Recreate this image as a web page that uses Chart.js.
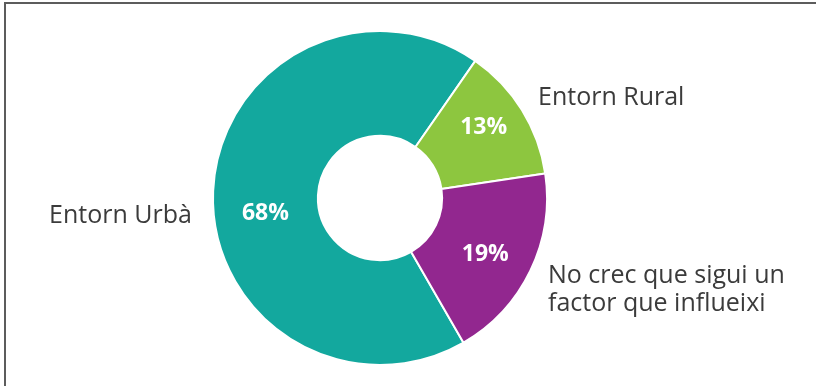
<!DOCTYPE html>
<html>
<head>
<meta charset="utf-8">
<script src="https://cdn.jsdelivr.net/npm/chart.js@4"></script>
<style>
  html, body { margin: 0; padding: 0; background: #fff; }
  #wrap { position: relative; width: 816px; height: 386px; overflow: hidden; }
  #frame {
    position: absolute; left: 4px; top: 2px; width: 900px; height: 500px;
    border-left: 2px solid #5c5c5c; border-top: 2px solid #5c5c5c;
  }
  canvas { position: absolute; left: 0; top: 0; }
</style>
</head>
<body>
<div id="wrap">
  <div id="frame"></div>
  <canvas id="pie" width="816" height="386"></canvas>
</div>
<script>
const categories = ["Entorn Urbà", "Entorn Rural", "No crec que sigui un factor que influeixi"];
const shares = [68, 13, 19];
const sliceColors = ["#13a89e", "#8dc63f", "#92278f"];

// outside captions, one entry per line
const captionLines = [
  ["Entorn Urbà"],
  ["Entorn Rural"],
  ["No crec que sigui un", "factor que influeixi"]
];

const textFont = "'Open Sans', 'Noto Sans', sans-serif";

// percent inside each slice
const sliceLabels = {
  id: "sliceLabels",
  afterDatasetsDraw(chart, args, opts) {
    const ctx = chart.ctx;
    const meta = chart.getDatasetMeta(0);
    ctx.save();
    ctx.fillStyle = "#fff";
    ctx.font = "bold 23px " + textFont;
    ctx.textAlign = "center";
    ctx.textBaseline = "middle";
    meta.data.forEach((arc, i) => {
      const p = arc.getProps(["x", "y", "startAngle", "endAngle", "innerRadius", "outerRadius"], true);
      const nudge = opts.nudge[i];
      const a = (p.startAngle + p.endAngle) / 2 + nudge.deg * Math.PI / 180;
      const r = (p.innerRadius + p.outerRadius) / 2 + nudge.dr;
      ctx.fillText(shares[i] + "%", p.x + Math.cos(a) * r, p.y + Math.sin(a) * r);
    });
    ctx.restore();
  }
};

// category names beside the ring
const captions = {
  id: "captions",
  afterDraw(chart, args, opts) {
    const ctx = chart.ctx;
    ctx.save();
    ctx.fillStyle = "#3b3b3b";
    ctx.font = "25px " + textFont;
    ctx.textBaseline = "alphabetic";
    ctx.textAlign = "left";
    captionLines.forEach((lines, i) => {
      const pos = opts.at[i];
      lines.forEach((line, j) => ctx.fillText(line, pos.x, pos.y + j * 28));
    });
    ctx.restore();
  }
};

new Chart(document.getElementById("pie"), {
  type: "doughnut",
  data: {
    labels: categories,
    datasets: [{
      data: shares,
      backgroundColor: sliceColors,
      borderColor: "#fff",
      borderWidth: 2,
      hoverOffset: 0
    }]
  },
  options: {
    responsive: false,
    animation: false,
    rotation: 150,
    radius: 167,
    cutout: "37.2%",
    layout: { padding: { left: 0, right: 56, top: 10, bottom: 0 } },
    events: [],
    plugins: {
      legend: { display: false },
      tooltip: { enabled: false },
      sliceLabels: {
        nudge: [{ deg: -10, dr: 1 }, { deg: -2.5, dr: 11 }, { deg: 2.5, dr: 5 }]
      },
      captions: {
        at: [{ x: 49, y: 223 }, { x: 538, y: 105 }, { x: 548, y: 283 }]
      }
    }
  },
  plugins: [sliceLabels, captions]
});
</script>
</body>
</html>
